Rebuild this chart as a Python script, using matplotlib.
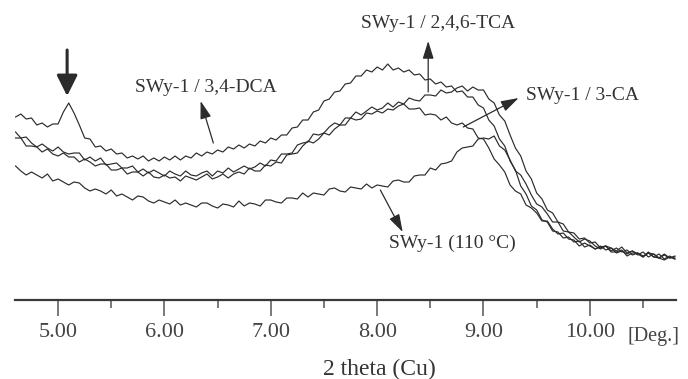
import numpy as np
import matplotlib
matplotlib.use("Agg")
import matplotlib.pyplot as plt

plt.rcParams['font.family'] = ['Liberation Serif', 'DejaVu Serif']

# 2-theta sampling (deg), 0.05 step
two_theta = np.round(np.arange(4.60, 10.801, 0.05), 2)

# intensities (arbitrary units)
dca_34 = [183,186,181,182,175,177,173,176,176,188,
          197,187,175,162,161,153,154,149,151,146,
          147,142,144,141,144,139,142,139,143,140,
          144,140,144,142,147,144,148,146,150,148,
          153,151,155,152,156,154,159,157,162,160,
          165,165,172,173,180,180,188,190,199,201,
          208,209,216,217,224,224,230,228,233,230,
          236,230,232,228,230,225,226,220,221,216,
          218,213,214,208,209,203,203,195,192,180,
          174,161,154,139,130,114,106,94,90,80,
          78,69,68,62,63,58,59,53,55,51,
          54,50,52,47,49,46,49,45,48,43,
          46,42,46,42,44]

tca_246 = [168,162,163,157,153,156,152,149,153,148,
           146,147,147,140,143,139,142,135,136,137,
           132,132,134,128,131,127,130,127,124,129,
           126,124,129,125,124,127,129,124,129,127,
           132,128,131,134,131,133,137,134,140,139,
           146,146,147,155,157,158,166,165,167,173,
           177,175,182,182,188,185,189,193,190,192,
           197,193,198,196,202,200,199,205,205,204,
           210,207,208,212,214,209,213,210,210,201,
           197,185,179,165,152,144,129,121,107,101,
           90,87,78,76,68,67,61,62,57,58,
           52,54,49,52,48,50,45,47,44,47,
           43,46,41,44,41]

ca_3 = [162,162,154,154,153,148,151,146,144,147,
        143,143,138,141,138,134,136,136,130,130,
        132,126,128,128,124,128,123,122,125,122,
        123,119,124,122,120,123,126,121,123,126,
        122,126,128,126,132,129,129,135,134,138,
        137,145,146,147,154,159,157,161,167,165,
        171,175,175,182,180,181,187,186,189,187,
        191,190,194,196,191,191,192,185,186,185,
        180,183,177,175,177,172,171,162,161,152,
        141,135,128,115,109,106,95,92,87,79,
        79,71,66,67,61,60,54,57,54,51,
        53,54,48,48,50,44,47,47,43,48,
        43,42,45,42,43]

swy_110 = [134,129,125,128,125,122,126,119,121,118,
           115,118,117,112,109,111,109,106,110,104,
           106,103,100,104,103,99,97,100,98,96,
           100,95,97,95,93,97,97,94,92,96,
           95,93,99,94,97,96,94,100,100,98,
           97,102,102,101,107,103,107,106,105,111,
           112,109,108,113,112,111,116,112,115,114,
           113,119,120,118,118,124,125,125,132,130,
           136,137,139,148,152,153,154,161,162,161,
           164,154,150,140,129,125,116,105,96,93,
           86,78,78,69,68,63,58,61,59,54,
           51,54,52,49,53,47,49,46,43,47,
           46,42,40,43,41]

major_ticks = [5.0, 6.0, 7.0, 8.0, 9.0, 10.0]
major_labels = ['5.00', '6.00', '7.00', '8.00', '9.00', '10.00']
minor_ticks = [5.5, 6.5, 7.5, 8.5, 9.5, 10.5]

line_col = '#2b2b2b'
text_col = '#333333'

fig = plt.figure(figsize=(6.88, 3.79), dpi=100)
ax = fig.add_axes([15/688, 79/379, 661/688, 300/379])
ax.set_xlim(4.595, 10.81)
ax.set_ylim(0, 300)

for series in (swy_110, ca_3, tca_246, dca_34):
    ax.plot(two_theta, series, color=line_col, lw=0.85)

for s in ('left', 'right', 'top'):
    ax.spines[s].set_visible(False)
ax.spines['bottom'].set_linewidth(1.6)
ax.spines['bottom'].set_color('#3a3a3a')
ax.set_yticks([])
ax.set_xticks(major_ticks)
ax.set_xticklabels(major_labels)
ax.set_xticks(minor_ticks, minor=True)
ax.tick_params(axis='x', which='major', direction='out', length=11.5, width=1.1,
               color='#555555', labelsize=16, labelcolor='#444444', pad=5)
ax.tick_params(axis='x', which='minor', direction='out', length=5.8, width=1.1,
               color='#555555')

ax.text(10.353, -37, '[Deg.]', ha='left', va='center', fontsize=14.5,
        color='#444444', clip_on=False)
ax.set_xlabel('2 theta (Cu)', fontsize=17, color='#333333')
ax.xaxis.set_label_coords(0.552, -0.233)
ax.xaxis.label.set_va('center')

def arrow(tail, head, lw=0.9, hl=0.9, hw=0.28, ms=12):
    ax.annotate('', xy=head, xytext=tail,
                arrowprops=dict(arrowstyle=f'-|>,head_length={hl},head_width={hw}',
                                lw=lw, color=line_col, mutation_scale=ms,
                                shrinkA=0, shrinkB=0))

# annotations
ax.text(6.39, 212, 'SWy-1 / 3,4-DCA', ha='center', va='center', fontsize=14, color=text_col)
arrow((6.46, 157), (6.34, 199))
ax.text(8.575, 277, 'SWy-1 / 2,4,6-TCA', ha='center', va='center', fontsize=14, color=text_col)
arrow((8.48, 208), (8.48, 259))
ax.text(9.40, 205, 'SWy-1 / 3-CA', ha='left', va='center', fontsize=14, color=text_col)
arrow((8.81, 173), (9.33, 202))
ax.text(8.71, 57, 'SWy-1 (110 °C)', ha='center', va='center', fontsize=14, color=text_col)
arrow((8.03, 110), (8.24, 68))
# marker arrow above the low-angle peak
arrow((5.085, 250), (5.085, 204), lw=2.2, hl=0.9, hw=0.45, ms=14)

fig.savefig('out.png', dpi=100)
